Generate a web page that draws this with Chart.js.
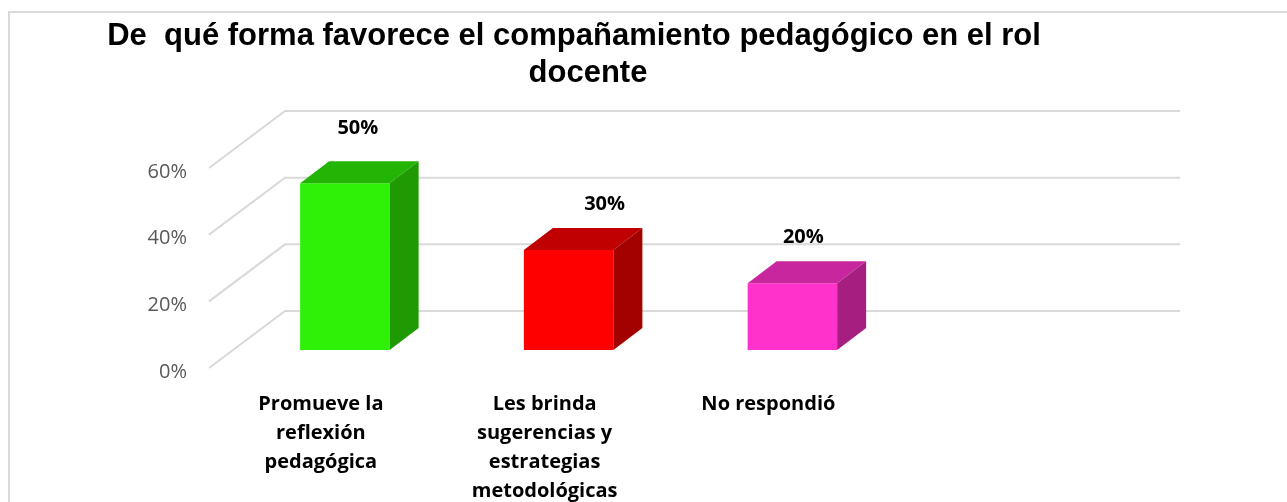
<!DOCTYPE html>
<html>
<head>
<meta charset="utf-8">
<script src="https://cdn.jsdelivr.net/npm/chart.js@4.4.1/dist/chart.umd.min.js"></script>
<style>
    html, body { margin: 0; padding: 0; background: #ffffff; }
    #wrap { width: 1287px; height: 502px; }
</style>
</head>
<body>
<div id="wrap"><canvas id="rolChart" width="1287" height="502"></canvas></div>
<script>
// Chart data
let categories = [
    ["Promueve la", "reflexión", "pedagógica"],
    ["Les brinda", "sugerencias y", "estrategias", "metodológicas"],
    ["No respondió"],
    [""]
];
let percentages = [0.5, 0.3, 0.2, null];
let yTicks = [0, 0.2, 0.4, 0.6];
let titleLines = ["De  qué forma favorece el compañamiento pedagógico en el rol", "docente"];

// Colours: front, top, side of every box
let frontColors = ["#2ff007", "#ff0000", "#ff33cc"];
let topColors = ["#23b505", "#c00000", "#c8269e"];
let sideColors = ["#1f9a03", "#a30000", "#a61f80"];

// 3D look (Excel style): wall depth, bar offset and bar depth
const WALL_DX = 76, WALL_DY = -57;
const BAR_SHIFT_X = 24, BAR_SHIFT_Y = -18;
const BAR_DX = 29, BAR_DY = -22;
// Excel moved the data labels a bit by hand
const labelNudgeX = [13, 36, 11];
const labelNudgeY = [-55, -46, -46];

function pct(v) {
    return Math.round(v * 100) + "%";
}

// Back wall, gridlines, title and y labels
const wallPlugin = {
    id: "wall",
    beforeDraw(chart) {
        let ctx = chart.ctx;
        let area = chart.chartArea;
        let y = chart.scales.y;

        ctx.save();
        ctx.fillStyle = "#ffffff";
        ctx.fillRect(0, 0, chart.width, chart.height);

        // outer frame
        ctx.strokeStyle = "#d9d9d9";
        ctx.lineWidth = 2;
        ctx.strokeRect(9, 12, chart.width + 20, chart.height + 20);

        // gridlines on the back wall and the side diagonals
        ctx.strokeStyle = "#d9d9d9";
        ctx.lineWidth = 2;
        yTicks.forEach(v => {
            let py = y.getPixelForValue(v);
            ctx.beginPath();
            ctx.moveTo(area.left, py);
            ctx.lineTo(area.left + WALL_DX, py + WALL_DY);
            ctx.lineTo(area.right + WALL_DX, py + WALL_DY);
            ctx.stroke();
        });

        // y tick labels
        ctx.fillStyle = "#595959";
        ctx.font = "20px 'Open Sans'";
        ctx.textAlign = "right";
        ctx.textBaseline = "middle";
        yTicks.forEach(v => {
            ctx.fillText(pct(v), area.left - 22, y.getPixelForValue(v) + 4);
        });

        // title
        ctx.fillStyle = "#000000";
        ctx.font = "bold 31px 'Liberation Sans'";
        ctx.textAlign = "center";
        ctx.textBaseline = "alphabetic";
        ctx.fillText(titleLines[0], 574, 45);
        ctx.fillText(titleLines[1], 588, 82);
        ctx.restore();
    },
    beforeDatasetsDraw(chart) {
        chart.ctx.save();
        chart.ctx.translate(BAR_SHIFT_X, BAR_SHIFT_Y);
    },
    afterDatasetsDraw(chart) {
        let ctx = chart.ctx;
        let meta = chart.getDatasetMeta(0);

        meta.data.forEach((bar, i) => {
            if (percentages[i] === null) return;
            let p = bar.getProps(["x", "y", "base", "width"], true);
            let left = p.x - p.width / 2;
            let right = p.x + p.width / 2;

            // top face
            ctx.fillStyle = topColors[i];
            ctx.beginPath();
            ctx.moveTo(left, p.y);
            ctx.lineTo(right, p.y);
            ctx.lineTo(right + BAR_DX, p.y + BAR_DY);
            ctx.lineTo(left + BAR_DX, p.y + BAR_DY);
            ctx.closePath();
            ctx.fill();

            // side face
            ctx.fillStyle = sideColors[i];
            ctx.beginPath();
            ctx.moveTo(right, p.y);
            ctx.lineTo(right + BAR_DX, p.y + BAR_DY);
            ctx.lineTo(right + BAR_DX, p.base + BAR_DY);
            ctx.lineTo(right, p.base);
            ctx.closePath();
            ctx.fill();

            // data label
            ctx.fillStyle = "#000000";
            ctx.font = "bold 20px 'Open Sans'";
            ctx.textAlign = "center";
            ctx.textBaseline = "middle";
            ctx.fillText(pct(percentages[i]), p.x + labelNudgeX[i], p.y + labelNudgeY[i]);
        });
        ctx.restore();
    }
};

function renderChart() {
    let ctx = document.getElementById("rolChart").getContext("2d");

    new Chart(ctx, {
        type: "bar",
        data: {
            labels: categories,
            datasets: [{
                data: percentages,
                backgroundColor: frontColors,
                borderWidth: 0,
                categoryPercentage: 1,
                barPercentage: 0.4
            }]
        },
        options: {
            responsive: false,
            animation: false,
            events: [],
            layout: {
                padding: { left: 0, top: 168, right: 183, bottom: 0 }
            },
            plugins: {
                legend: { display: false },
                title: { display: false },
                tooltip: { enabled: false }
            },
            scales: {
                x: {
                    grid: { display: false },
                    border: { display: false },
                    ticks: {
                        color: "#000000",
                        font: { family: "'Open Sans'", size: 20, weight: "bold", lineHeight: 1.45 },
                        padding: 14,
                        maxRotation: 0,
                        autoSkip: false
                    },
                    afterFit(scale) { scale.height = 134; }
                },
                y: {
                    min: 0,
                    max: 0.6,
                    grid: { display: false },
                    border: { display: false },
                    ticks: { display: false, stepSize: 0.2 },
                    afterFit(scale) { scale.width = 209; }
                }
            }
        },
        plugins: [wallPlugin]
    });
}

document.addEventListener("DOMContentLoaded", function() {
    renderChart();
});
</script>
</body>
</html>
